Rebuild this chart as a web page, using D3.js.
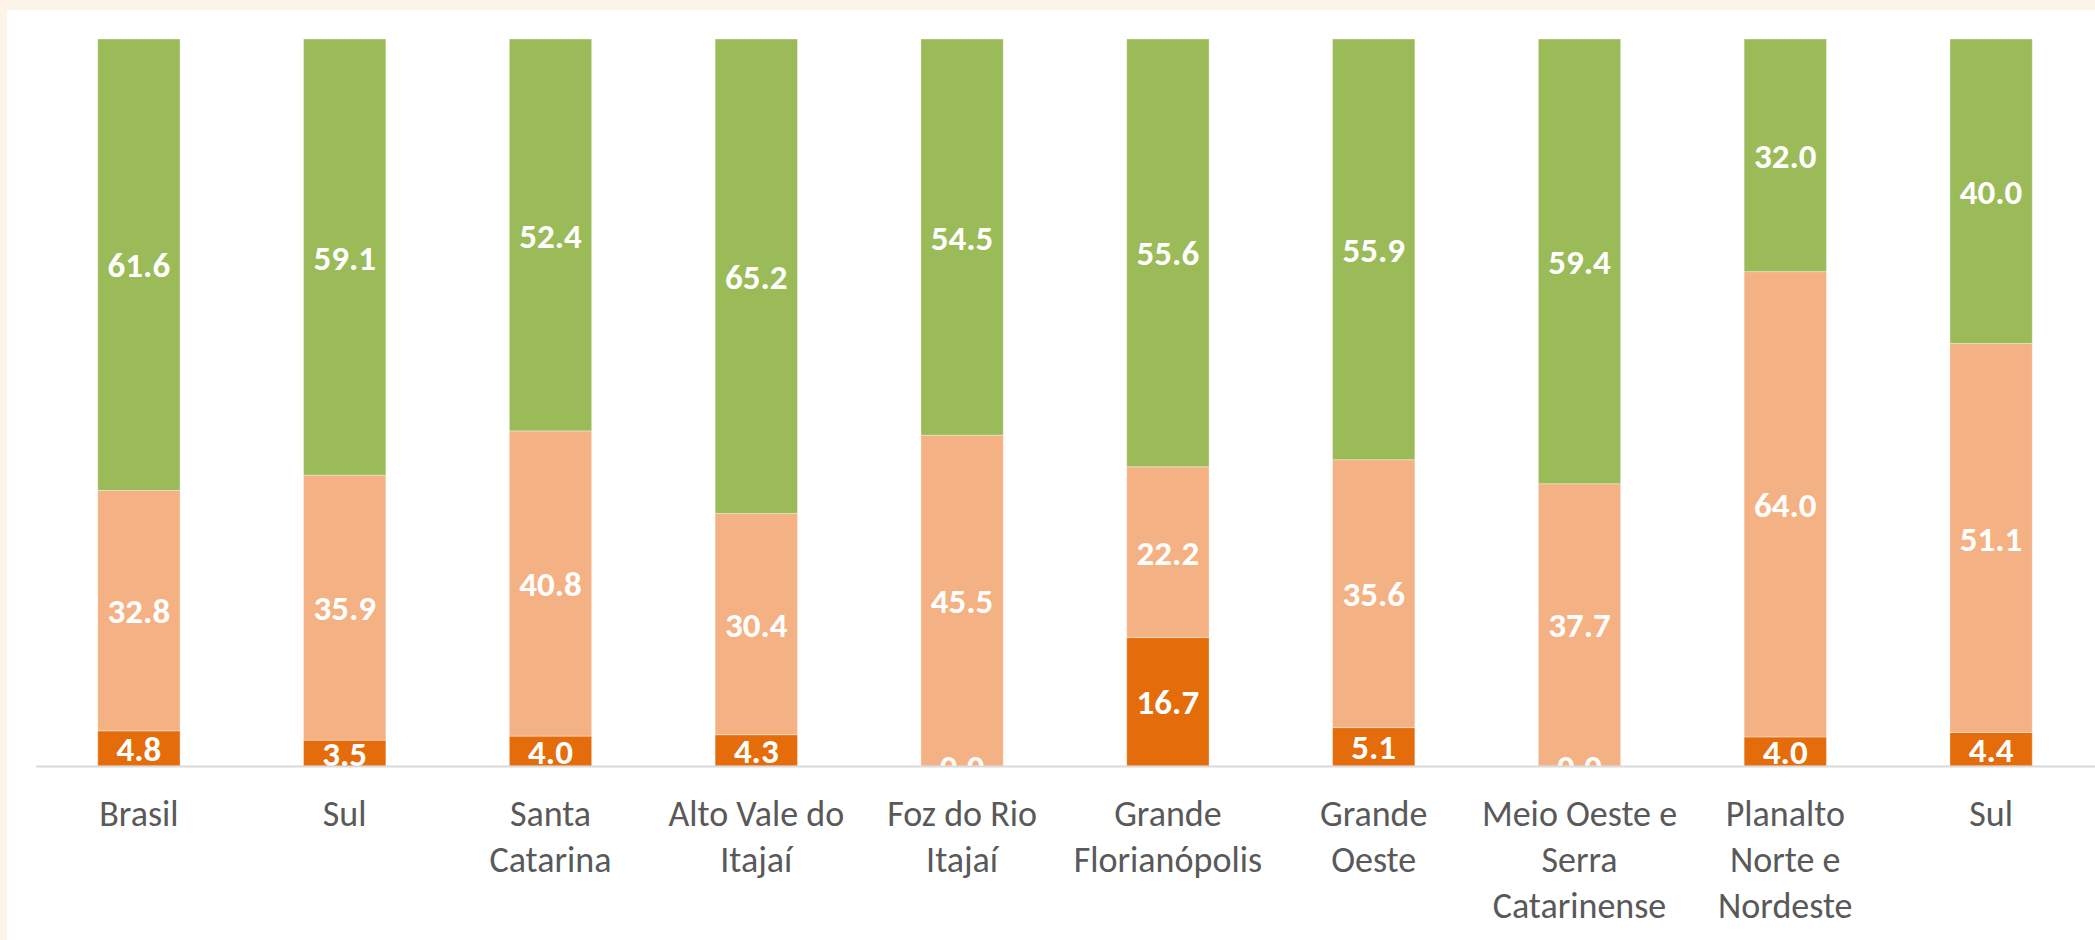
<!DOCTYPE html>
<html>
<head>
<meta charset="utf-8">
<script src="https://cdn.jsdelivr.net/npm/d3@7"></script>
<style>
  html, body { margin: 0; padding: 0; background: #fcf4e7; }
  svg { display: block; }
</style>
</head>
<body>
<div id="chart"></div>
<script>
// categories (multi-line labels split on '|')
const categories = [
  'Brasil', 'Sul', 'Santa|Catarina', 'Alto Vale do|Itajaí', 'Foz do Rio|Itajaí',
  'Grande|Florianópolis', 'Grande|Oeste', 'Meio Oeste e|Serra|Catarinense',
  'Planalto|Norte e|Nordeste', 'Sul'
];
// series values, bottom to top
const darkValues  = [4.8, 3.5, 4.0, 4.3, 0.0, 16.7, 5.1, 0.0, 4.0, 4.4];
const lightValues = [32.8, 35.9, 40.8, 30.4, 45.5, 22.2, 35.6, 37.7, 64.0, 51.1];
const greenValues = [61.6, 59.1, 52.4, 65.2, 54.5, 55.6, 55.9, 59.4, 32.0, 40.0];

const seriesKeys = ['dark', 'light', 'green'];
const colors = { dark: '#e46c0a', light: '#f4b183', green: '#9bbb59' };

const width = 2095;
const height = 940;
const margin = { top: 39, right: 1, bottom: 174, left: 36 };

const rows = categories.map((c, i) => ({
  key: i, label: c, dark: darkValues[i], light: lightValues[i], green: greenValues[i]
}));

const stacked = d3.stack()
  .keys(seriesKeys)
  .offset(d3.stackOffsetExpand)(rows);

const x = d3.scaleBand()
  .domain(rows.map(d => d.key))
  .range([margin.left, width - margin.right])
  .paddingInner(0.6)
  .paddingOuter(0.3);

const y = d3.scaleLinear()
  .domain([0, 1])
  .range([height - margin.bottom, margin.top]);

const svg = d3.select('#chart')
  .append('svg')
  .attr('width', width)
  .attr('height', height);

// white chart area on the cream page
svg.append('rect')
  .attr('x', 7).attr('y', 10)
  .attr('width', width - 7).attr('height', height - 10)
  .attr('fill', '#fff');

const layers = svg.append('g')
  .selectAll('g')
  .data(stacked)
  .join('g')
  .attr('fill', s => colors[s.key]);

layers.selectAll('rect')
  .data(s => s)
  .join('rect')
  .attr('x', d => x(d.data.key))
  .attr('width', x.bandwidth())
  .attr('y', d => y(d[1]))
  .attr('height', d => y(d[0]) - y(d[1]))
  .attr('stroke', '#fff')
  .attr('stroke-opacity', 0.35)
  .attr('stroke-width', 1);

// value labels
const labels = svg.append('g')
  .attr('font-family', 'Carlito, Lato, sans-serif')
  .attr('font-weight', 'bold')
  .attr('font-size', '35px')
  .attr('fill', '#fff')
  .attr('text-anchor', 'middle');

stacked.forEach(s => {
  labels.selectAll(null)
    .data(s)
    .join('text')
    .attr('x', d => x(d.data.key) + x.bandwidth() / 2)
    .attr('y', d => (y(d[0]) + y(d[1])) / 2)
    .attr('dy', '0.36em')
    .text(d => d.data[s.key].toFixed(1));
});

// baseline
svg.append('line')
  .attr('x1', margin.left)
  .attr('x2', width)
  .attr('y1', y(0) + 0.5)
  .attr('y2', y(0) + 0.5)
  .attr('stroke', '#d9d9d9')
  .attr('stroke-width', 2);

// category labels
const cat = svg.append('g')
  .attr('font-family', 'Carlito, Lato, sans-serif')
  .attr('font-size', '36px')
  .attr('fill', '#595959')
  .attr('text-anchor', 'middle');

rows.forEach(d => {
  const t = cat.append('text')
    .attr('x', x(d.key) + x.bandwidth() / 2)
    .attr('y', 826);
  d.label.split('|').forEach((line, i) => {
    t.append('tspan')
      .attr('x', x(d.key) + x.bandwidth() / 2)
      .attr('dy', i === 0 ? 0 : 46)
      .text(line);
  });
});
</script>
</body>
</html>
